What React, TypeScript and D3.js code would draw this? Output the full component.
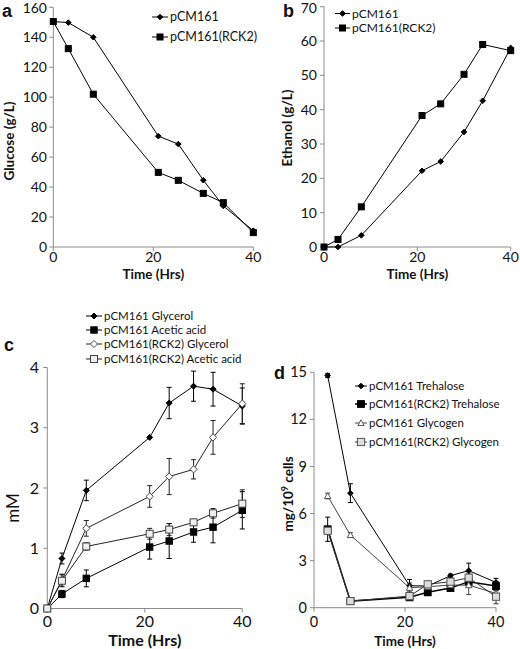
import React from "react";
import * as d3 from "d3";

// ---------- data ----------
const hours = [0, 3, 8, 21, 25, 30, 34, 40];
const hoursD = [3, 8, 21, 25, 30, 34, 40];

const glucoseWT = [150.5, 149.8, 140, 74, 68.7, 44.6, 27.4, 10.9];
const glucoseRCK2 = [150.5, 132.4, 102, 49.8, 44.5, 35.8, 29.6, 9.6];

const ethanolWT = [0, 0, 3.4, 22.2, 24.9, 33.5, 42.6, 58];
const ethanolRCK2 = [0, 2.2, 11.7, 38.3, 41.7, 50.3, 59, 57.2];

const glycerolWT = [0, 0.83, 1.96, 2.84, 3.41, 3.69, 3.64, 3.36];
const glycerolWTErr = [0, 0.09, 0.17, 0, 0.26, 0.25, 0.28, 0.3];
const aceticWT = [0, 0.24, 0.5, 1.02, 1.12, 1.27, 1.35, 1.63];
const aceticWTErr = [0, 0.06, 0.14, 0.2, 0.29, 0.17, 0.26, 0.31];
const glycerolRCK2 = [0, 0.47, 1.33, 1.86, 2.19, 2.31, 2.84, 3.4];
const glycerolRCK2Err = [0, 0.1, 0.13, 0.18, 0.3, 0.16, 0.28, 0.33];
const aceticRCK2 = [0, 0.46, 1.03, 1.24, 1.31, 1.43, 1.58, 1.74];
const aceticRCK2Err = [0, 0.1, 0.06, 0.09, 0.1, 0.05, 0.08, 0.23];

const trehaloseWT = [14.8, 7.3, 1.4, 1.38, 2.04, 2.36, 1.61];
const trehaloseWTErr = [0.13, 0.6, 0.4, 0.2, 0.1, 0.48, 0.26];
const trehaloseRCK2 = [5.0, 0.42, 0.66, 0.98, 1.25, 1.66, 1.38];
const trehaloseRCK2Err = [0.77, 0.08, 0.1, 0.2, 0.1, 0.3, 0.3];
const glycogenWT = [7.12, 4.63, 1.27, 1.34, 1.44, 1.44, 0.91];
const glycogenWTErr = [0.18, 0.15, 0.3, 0.2, 0.1, 0.6, 0.2];
const glycogenRCK2 = [4.9, 0.42, 0.74, 1.49, 1.66, 1.91, 0.7];
const glycogenRCK2Err = [0.1, 0.05, 0.2, 0.2, 0.2, 0.3, 0.45];

const xTicks = [0, 20, 40];
const ticksA = [0, 20, 40, 60, 80, 100, 120, 140, 160];
const ticksB = [0, 10, 20, 30, 40, 50, 60, 70];
const ticksC = [0, 1, 2, 3, 4];
const ticksD = [0, 3, 6, 9, 12, 15];

const labelsA = ["pCM161", "pCM161(RCK2)"];
const labelsC = ["pCM161 Glycerol", "pCM161 Acetic acid", "pCM161(RCK2) Glycerol", "pCM161(RCK2) Acetic acid"];
const labelsD = ["pCM161 Trehalose", "pCM161(RCK2) Trehalose", "pCM161 Glycogen", "pCM161(RCK2) Glycogen"];

const FONT = "Lato, 'Open Sans', sans-serif";
const AXIS = "#8c8c8c";

type Style = { shape: string; size: number; fill: string; stroke: string; line: string; lw: number };

function Marker({ x, y, s }: { x: number; y: number; s: Style }) {
  const r = s.size;
  if (s.shape === "square")
    return <rect x={x - r} y={y - r} width={2 * r} height={2 * r} fill={s.fill} stroke={s.stroke} strokeWidth={1} />;
  if (s.shape === "diamond")
    return <path d={`M${x},${y - r}L${x + r},${y}L${x},${y + r}L${x - r},${y}Z`} fill={s.fill} stroke={s.stroke} strokeWidth={1} />;
  return <path d={`M${x},${y - r}L${x + r},${y + r * 0.8}L${x - r},${y + r * 0.8}Z`} fill={s.fill} stroke={s.stroke} strokeWidth={1} />;
}

type Series = { xs: number[]; ys: number[]; err?: number[]; style: Style };

function Panel(props: {
  x0: number; x1: number; y0: number; y1: number; ymax: number; yticks: number[];
  series: Series[]; tickFont: number; tickLabelRight: number; xTickY: number;
  titleX: string; titleXY: number; titleXFont: number;
  yTitle: React.ReactNode; yTitleX: number; yTitleY: number; yTitleFont: number; yTitleBold: boolean;
  letter: string; letterX: number; letterY: number;
  legend: { labels: string[]; lx0: number; lx1: number; tx: number; ys: number[]; font: number };
}) {
  const p = props;
  const xs = d3.scaleLinear().domain([0, 40]).range([p.x0, p.x1]);
  const ys = d3.scaleLinear().domain([0, p.ymax]).range([p.y0, p.y1]);
  const line = d3.line<[number, number]>().x((d) => xs(d[0])).y((d) => ys(d[1]));
  return (
    <g>
      {/* axes */}
      <line x1={p.x0} x2={p.x0} y1={p.y1} y2={p.y0} stroke={AXIS} />
      <line x1={p.x0} x2={p.x1} y1={p.y0} y2={p.y0} stroke={AXIS} />
      {p.yticks.map((t) => (
        <g key={"y" + t}>
          <line x1={p.x0 - 4} x2={p.x0} y1={ys(t)} y2={ys(t)} stroke={AXIS} />
          <text x={p.tickLabelRight} y={Math.max(ys(t), p.tickFont * 0.55)} dy="0.35em" textAnchor="end" fontSize={p.tickFont} fontFamily={FONT} fill="#111">{t}</text>
        </g>
      ))}
      {xTicks.map((t) => (
        <g key={"x" + t}>
          <line x1={xs(t)} x2={xs(t)} y1={p.y0} y2={p.y0 + 4} stroke={AXIS} />
          <text x={xs(t)} y={p.xTickY} dy="0.35em" textAnchor="middle" fontSize={p.tickFont} fontFamily={FONT} fill="#111">{t}</text>
        </g>
      ))}
      <text x={(p.x0 + p.x1) / 2} y={p.titleXY} dy="0.35em" textAnchor="middle" fontSize={p.titleXFont} fontWeight="bold" fontFamily={FONT} fill="#111">{p.titleX}</text>
      <text transform={`translate(${p.yTitleX},${p.yTitleY}) rotate(-90)`} dy="0.35em" textAnchor="middle" fontSize={p.yTitleFont} fontWeight={p.yTitleBold ? "bold" : "normal"} fontFamily={FONT} fill="#111">{p.yTitle}</text>
      <text x={p.letterX} y={p.letterY} dy="0.35em" fontSize={18} fontWeight="bold" fontFamily="'Liberation Sans', Arial, sans-serif" fill="#111">{p.letter}</text>
      {/* series */}
      {p.series.map((s, i) => (
        <g key={"s" + i}>
          <path d={line(s.xs.map((x, j) => [x, s.ys[j]] as [number, number])) || ""} fill="none" stroke={s.style.line} strokeWidth={s.style.lw} />
          {s.err && s.xs.map((x, j) => s.err![j] > 0 ? (
            <g key={"e" + j} stroke={s.style.line} strokeWidth={1}>
              <line x1={xs(x)} x2={xs(x)} y1={ys(s.ys[j] - s.err![j])} y2={ys(s.ys[j] + s.err![j])} />
              <line x1={xs(x) - 2.5} x2={xs(x) + 2.5} y1={ys(s.ys[j] - s.err![j])} y2={ys(s.ys[j] - s.err![j])} />
              <line x1={xs(x) - 2.5} x2={xs(x) + 2.5} y1={ys(s.ys[j] + s.err![j])} y2={ys(s.ys[j] + s.err![j])} />
            </g>
          ) : null)}
        </g>
      ))}
      {p.series.map((s, i) => (
        <g key={"m" + i}>
          {s.xs.map((x, j) => <Marker key={j} x={xs(x)} y={ys(s.ys[j])} s={s.style} />)}
        </g>
      ))}
      {/* legend */}
      {p.legend.labels.map((lab, i) => {
        const st = p.series[i].style;
        const y = p.legend.ys[i];
        return (
          <g key={"l" + i}>
            <line x1={p.legend.lx0} x2={p.legend.lx1} y1={y} y2={y} stroke={st.line} strokeWidth={st.lw} />
            <Marker x={(p.legend.lx0 + p.legend.lx1) / 2} y={y} s={st} />
            <text x={p.legend.tx} y={y} dy="0.35em" fontSize={p.legend.font} fontFamily={FONT} fill="#111">{lab}</text>
          </g>
        );
      })}
    </g>
  );
}

const dia: Style = { shape: "diamond", size: 2.8, fill: "#000", stroke: "#000", line: "#000", lw: 1 };
const sq: Style = { shape: "square", size: 3, fill: "#000", stroke: "#000", line: "#000", lw: 1 };
const diaC: Style = { shape: "diamond", size: 3, fill: "#000", stroke: "#000", line: "#000", lw: 1 };
const sqC: Style = { shape: "square", size: 3.2, fill: "#000", stroke: "#000", line: "#000", lw: 1 };
const odiaC: Style = { shape: "diamond", size: 3.6, fill: "#fff", stroke: "#444", line: "#222", lw: 1 };
const osqC: Style = { shape: "square", size: 3.5, fill: "#eee", stroke: "#444", line: "#222", lw: 1 };
const sqD: Style = { shape: "square", size: 3.4, fill: "#000", stroke: "#000", line: "#000", lw: 1.5 };
const triD: Style = { shape: "triangle", size: 3.2, fill: "#fff", stroke: "#555", line: "#444", lw: 1 };
const osqD: Style = { shape: "square", size: 3.6, fill: "#ddd", stroke: "#555", line: "#333", lw: 1 };

export default function App() {
  return (
    <svg width={520} height={649} style={{ position: "absolute", left: 0, top: 0, background: "#fff" }}>
      <Panel
        x0={53.3} x1={253.3} y0={247} y1={7.3} ymax={160} yticks={ticksA}
        series={[{ xs: hours, ys: glucoseWT, style: dia }, { xs: hours, ys: glucoseRCK2, style: sq }]}
        tickFont={14} tickLabelRight={47} xTickY={257.5}
        titleX="Time (Hrs)" titleXY={274} titleXFont={13.5}
        yTitle="Glucose (g/L)" yTitleX={9} yTitleY={141} yTitleFont={13.5} yTitleBold
        letter="a" letterX={2} letterY={11}
        legend={{ labels: labelsA, lx0: 152, lx1: 168, tx: 170, ys: [17, 37], font: 12.5 }}
      />
      <Panel
        x0={324} x1={510.7} y0={247} y1={6.7} ymax={70} yticks={ticksB}
        series={[{ xs: hours, ys: ethanolWT, style: dia }, { xs: hours, ys: ethanolRCK2, style: sq }]}
        tickFont={14} tickLabelRight={317} xTickY={257.5}
        titleX="Time (Hrs)" titleXY={274} titleXFont={13.5}
        yTitle="Ethanol (g/L)" yTitleX={287.5} yTitleY={128} yTitleFont={13.5} yTitleBold
        letter="b" letterX={283} letterY={11}
        legend={{ labels: labelsA, lx0: 335, lx1: 350, tx: 352, ys: [13.5, 28], font: 12 }}
      />
      <Panel
        x0={47.3} x1={242.3} y0={608.5} y1={367.5} ymax={4} yticks={ticksC}
        series={[
          { xs: hours, ys: glycerolWT, err: glycerolWTErr, style: diaC },
          { xs: hours, ys: aceticWT, err: aceticWTErr, style: sqC },
          { xs: hours, ys: glycerolRCK2, err: glycerolRCK2Err, style: odiaC },
          { xs: hours, ys: aceticRCK2, err: aceticRCK2Err, style: osqC },
        ]}
        tickFont={16} tickLabelRight={39} xTickY={621}
        titleX="Time (Hrs)" titleXY={640} titleXFont={16}
        yTitle="mM" yTitleX={13} yTitleY={508} yTitleFont={17} yTitleBold={false}
        letter="c" letterX={4} letterY={345}
        legend={{ labels: labelsC, lx0: 86, lx1: 102, tx: 104, ys: [316, 330, 344, 359], font: 11.5 }}
      />
      <Panel
        x0={314} x1={496} y0={607.7} y1={372.3} ymax={15} yticks={ticksD}
        series={[
          { xs: hoursD, ys: trehaloseWT, err: trehaloseWTErr, style: dia },
          { xs: hoursD, ys: trehaloseRCK2, err: trehaloseRCK2Err, style: sqD },
          { xs: hoursD, ys: glycogenWT, err: glycogenWTErr, style: triD },
          { xs: hoursD, ys: glycogenRCK2, err: glycogenRCK2Err, style: osqD },
        ]}
        tickFont={14.5} tickLabelRight={307} xTickY={622}
        titleX="Time (Hrs)" titleXY={641} titleXFont={13.5}
        yTitle={<>mg/10<tspan dy="-5" fontSize={9}>9</tspan><tspan dy="5"> cells</tspan></>} yTitleX={288} yTitleY={494} yTitleFont={13.5} yTitleBold
        letter="d" letterX={274} letterY={373}
        legend={{ labels: labelsD, lx0: 355, lx1: 367, tx: 369, ys: [386, 404, 423, 442], font: 11.5 }}
      />
    </svg>
  );
}
